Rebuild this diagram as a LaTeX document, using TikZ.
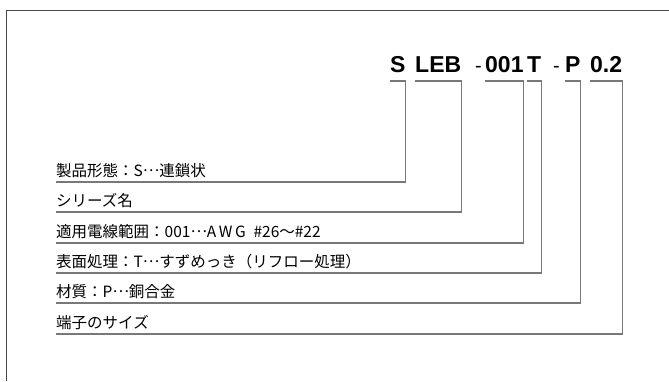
\documentclass[tikz,border=0pt]{standalone}
\usepackage{fontspec}
\usepackage{tikz}
\setmainfont{Liberation Sans}
\newfontfamily\jp{Noto Sans CJK JP}
\definecolor{framegray}{RGB}{70, 70, 70}
\definecolor{leadgray}{RGB}{120, 120, 120}
\newcommand\midell{\raisebox{0.32em}{…}}

\begin{document}
\begin{tikzpicture}[x=1pt, y=-1pt,
  code/.style={font=\bfseries\fontsize{23}{23}\selectfont, inner sep=0pt, anchor=base west},
  hyph/.style={font=\fontsize{20}{20}\selectfont, inner sep=0pt, anchor=base west},
  desc/.style={font=\jp\fontsize{15.5}{15.5}\selectfont, inner sep=0pt, anchor=base west},
  lead/.style={draw=leadgray, line width=1.2pt}]
\useasboundingbox (0,0) rectangle (669,381);
% Frame
\draw[framegray, line width=1pt] (669,10) -- (6,10) -- (6,381);

% Part number
\node[code] (cS) at (390,72) {S};
\node[code] (cLEB) at (415,72) {LEB};
\node[hyph] (h1) at (475,72) {-};
\node[code] (cW) at (485,72) {001};
\node[code] (cT) at (527,72) {T};
\node[hyph] (h2) at (553,72) {-};
\node[code] (cP) at (565,72) {P};
\node[code] (cZ) at (590,72) {0.2};

% Descriptions
\node[desc] (dS) at (56,176) {製品形態：S\midell 連鎖状};
\node[desc] (dLEB) at (56,206) {シリーズ名};
\node[desc] (dW) at (56,237) {適用電線範囲：001\midell A\,W\,G\enspace\#26～\#22};
\node[desc] (dT) at (56,267) {表面処理：T\midell すずめっき（リフロー処理）};
\node[desc] (dP) at (56,297) {材質：P\midell 銅合金};
\node[desc] (dZ) at (56,328) {端子のサイズ};

% Leaders
\draw[lead] ([yshift=-9pt]cS.base west) -- ([yshift=-9pt]cS.base east) |- ([yshift=-6pt]dS.base west);
\draw[lead] ([yshift=-9pt]cLEB.base west) -- ([yshift=-9pt]cLEB.base east) |- ([yshift=-6pt]dLEB.base west);
\draw[lead] ([yshift=-9pt]cW.base west) -- ([yshift=-9pt]cW.base east) |- ([yshift=-6pt]dW.base west);
\draw[lead] ([yshift=-9pt]cT.base west) -- ([yshift=-9pt]cT.base east) |- ([yshift=-6pt]dT.base west);
\draw[lead] ([yshift=-9pt]cP.base west) -- ([yshift=-9pt]cP.base east) |- ([yshift=-6pt]dP.base west);
\draw[lead] ([yshift=-9pt]cZ.base west) -- ([yshift=-9pt]cZ.base east) |- ([yshift=-6pt]dZ.base west);
\end{tikzpicture}
\end{document}
